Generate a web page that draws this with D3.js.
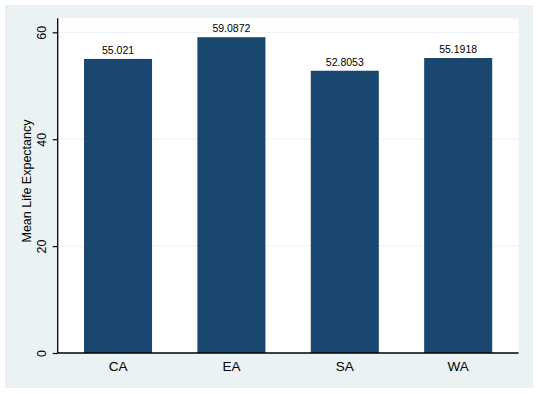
<!DOCTYPE html>
<html>
<head>
<meta charset="utf-8">
<script src="https://cdn.jsdelivr.net/npm/d3@7"></script>
<style>
  body { margin: 0; background: #fff; }
  svg { display: block; font-family: "Liberation Sans", Arial, sans-serif; }
</style>
</head>
<body>
<svg id="chart" width="538" height="394"></svg>
<script>
// data
var regions = ["CA", "EA", "SA", "WA"];
var lifeExp = [55.021, 59.0872, 52.8053, 55.1918];
var valueLabels = ["55.021", "59.0872", "52.8053", "55.1918"];
var yTicks = [0, 20, 40, 60];

var svg = d3.select("#chart");

// outer graph region
svg.append("rect")
  .attr("x", 5).attr("y", 5)
  .attr("width", 528).attr("height", 383)
  .attr("fill", "#EAF2F3");

var plot = { left: 57.7, right: 518.5, top: 18.3, bottom: 353 };

var y = d3.scaleLinear().domain([0, 60]).range([plot.bottom, 32.3]);
var x = d3.scaleBand().domain(regions)
  .range([plot.left, plot.right])
  .paddingInner(0.4).paddingOuter(0.232);

// plot region
svg.append("rect")
  .attr("x", plot.left).attr("y", plot.top)
  .attr("width", plot.right - plot.left).attr("height", plot.bottom - plot.top)
  .attr("fill", "#fff");

// gridlines
svg.append("g").selectAll("line")
  .data(yTicks.filter(function(d){ return d > 0; }))
  .enter().append("line")
    .attr("x1", plot.left).attr("x2", plot.right - 1)
    .attr("y1", function(d){ return y(d); })
    .attr("y2", function(d){ return y(d); })
    .attr("stroke", "#EAF2F3").attr("stroke-width", 1);

// bars
svg.append("g").selectAll("rect")
  .data(lifeExp)
  .enter().append("rect")
    .attr("x", function(d, i){ return x(regions[i]); })
    .attr("width", x.bandwidth())
    .attr("y", function(d){ return y(d); })
    .attr("height", function(d){ return y(0) - y(d); })
    .attr("fill", "#1A476F");

// value labels
svg.append("g").selectAll("text")
  .data(lifeExp)
  .enter().append("text")
    .attr("x", function(d, i){ return x(regions[i]) + x.bandwidth() / 2; })
    .attr("y", function(d){ return y(d) - 5; })
    .attr("text-anchor", "middle")
    .attr("font-size", "10.5px")
    .attr("fill", "#000")
    .text(function(d, i){ return valueLabels[i]; });

// y axis
var yAxis = d3.axisLeft(y).tickValues(yTicks).tickSize(5).tickPadding(6);
var gy = svg.append("g")
  .attr("transform", "translate(" + plot.left + ",0)")
  .call(yAxis);
gy.select(".domain").attr("d", "M0," + plot.top + "V" + plot.bottom)
  .attr("stroke", "#000").attr("stroke-width", 1.3);
gy.selectAll(".tick line").attr("stroke", "#000").attr("stroke-width", 1.2);
gy.selectAll(".tick text")
  .attr("font-size", "12.5px")
  .attr("font-family", "Liberation Sans, Arial, sans-serif")
  .attr("fill", "#000")
  .attr("text-anchor", "middle")
  .attr("dy", null)
  .attr("x", 0).attr("y", 0)
  .attr("transform", "translate(-11.5,0) rotate(-90)");

// x axis
var xAxis = d3.axisBottom(x).tickSize(0).tickPadding(8);
var gx = svg.append("g")
  .attr("transform", "translate(0," + plot.bottom + ")")
  .call(xAxis);
gx.select(".domain").attr("d", "M" + plot.left + ",0H" + plot.right)
  .attr("stroke", "#000").attr("stroke-width", 1.3);
gx.selectAll(".tick text")
  .attr("font-size", "13.5px")
  .attr("font-family", "Liberation Sans, Arial, sans-serif")
  .attr("fill", "#000");

// y axis title
svg.append("text")
  .attr("transform", "translate(30.5,181) rotate(-90)")
  .attr("text-anchor", "middle")
  .attr("font-size", "12.5px")
  .attr("fill", "#000")
  .text("Mean Life Expectancy");
</script>
</body>
</html>
